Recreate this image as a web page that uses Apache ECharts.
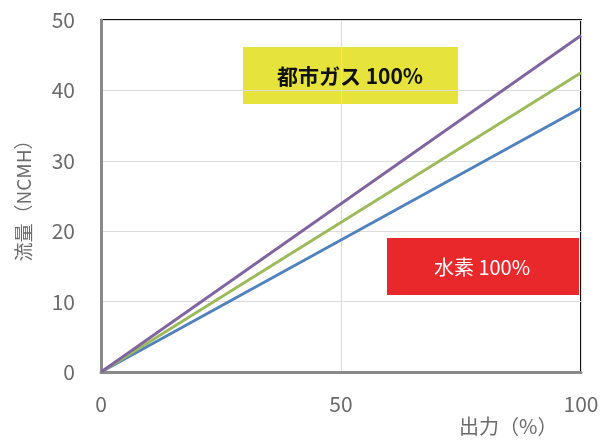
<!DOCTYPE html>
<html>
<head>
<meta charset="utf-8">
<script src="https://cdn.jsdelivr.net/npm/echarts@6/dist/echarts.min.js"></script>
<style>
  html, body { margin: 0; padding: 0; background: #fff; }
  #chart { width: 608px; height: 441px; }
</style>
</head>
<body>
<div id="chart"></div>
<script>
// Output (%) at the two ends of each line
const outputPct = [0, 100];
// Flow (NCMH) for each fuel mix
const flowPurple = [0, 47.8];
const flowGreen = [0, 42.5];
const flowBlue = [0, 37.5];

const yTicks = { min: 0, max: 50, interval: 10 };
const xTicks = { min: 0, max: 100, interval: 50 };

const FONT = '"Noto Sans CJK JP", "Noto Sans", sans-serif';

function pairs(ys) {
  return outputPct.map((x, i) => [x, ys[i]]);
}

const chart = echarts.init(document.getElementById('chart'));
chart.setOption({
  animation: false,
  backgroundColor: '#ffffff',
  grid: {
    left: 101, right: 27, top: 20, bottom: 69,
    show: true, borderColor: '#111111', borderWidth: 2
  },
  xAxis: {
    type: 'value',
    min: xTicks.min, max: xTicks.max, interval: xTicks.interval,
    axisLine: { show: true, lineStyle: { color: '#8a8a8a', width: 3 } },
    axisTick: { show: false },
    splitLine: { show: true, lineStyle: { color: '#dcdcdc', width: 1 } },
    axisLabel: { color: '#6a6a6a', fontSize: 21, fontFamily: FONT, margin: 22 },
    name: '出力（%）',
    nameLocation: 'end',
    nameGap: -122,
    nameTextStyle: {
      color: '#6a6a6a', fontSize: 20, fontFamily: FONT,
      align: 'left', verticalAlign: 'top', padding: [44, 0, 0, 0]
    }
  },
  yAxis: {
    type: 'value',
    min: yTicks.min, max: yTicks.max, interval: yTicks.interval,
    axisLine: { show: true, lineStyle: { color: '#8a8a8a', width: 3 } },
    axisTick: { show: false },
    splitLine: { show: true, lineStyle: { color: '#dcdcdc', width: 1 } },
    axisLabel: { color: '#6a6a6a', fontSize: 21, fontFamily: FONT, margin: 26 },
    name: '流量（NCMH）',
    nameLocation: 'middle',
    nameGap: 68,
    nameRotate: 90,
    nameTextStyle: { color: '#6a6a6a', fontSize: 19, fontFamily: FONT }
  },
  series: [
    { type: 'line', data: pairs(flowBlue), symbol: 'none', lineStyle: { color: '#4f81bd', width: 2.8 } },
    { type: 'line', data: pairs(flowGreen), symbol: 'none', lineStyle: { color: '#9bbb59', width: 2.8 } },
    { type: 'line', data: pairs(flowPurple), symbol: 'none', lineStyle: { color: '#8064a2', width: 2.8 } }
  ],
  graphic: [
    {
      type: 'group', left: 243, top: 47,
      children: [
        { type: 'rect', shape: { x: 0, y: 0, width: 215, height: 57 }, style: { fill: '#e6e33d' } },
        { type: 'text', x: 107, y: 29, style: {
          text: '都市ガス 100%', fill: '#111111', font: 'bold 21px ' + FONT,
          align: 'center', verticalAlign: 'middle' } }
      ]
    },
    {
      type: 'group', left: 387, top: 238,
      children: [
        { type: 'rect', shape: { x: 0, y: 0, width: 192, height: 57 }, style: { fill: '#e8282b' } },
        { type: 'text', x: 95, y: 29, style: {
          text: '水素 100%', fill: '#ffffff', font: '20px ' + FONT,
          align: 'center', verticalAlign: 'middle' } }
      ]
    }
  ]
});
</script>
</body>
</html>
